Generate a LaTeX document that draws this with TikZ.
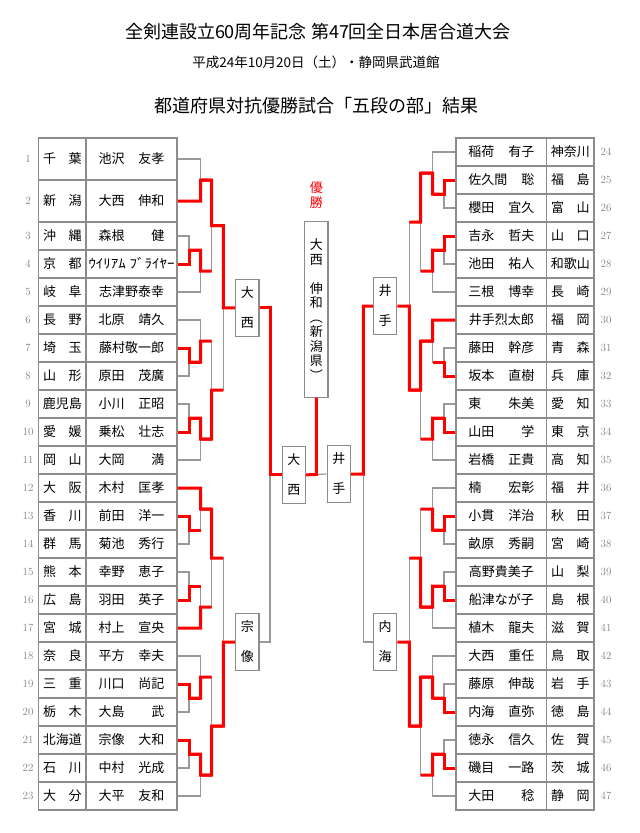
\documentclass[tikz,border=0pt]{standalone}
\usepackage{fontspec}
\usepackage{graphicx}
\newfontfamily\jp{Noto Sans CJK JP}
\usetikzlibrary{calc, positioning}
\newcommand\prefbox[2]{\makebox[38.5pt]{#1\hfill#2}}
\newcommand\namebox[2]{\makebox[66pt]{#1\hfill#2}}

\begin{document}
\begin{tikzpicture}[x=1pt, y=-1pt,
  cell/.style={draw=gray!90, line width=1.2pt, inner sep=0pt, minimum height=28pt,
    font=\jp\fontsize{13}{14}\selectfont, text height=11.4pt, text depth=1.6pt},
  num/.style={text=gray, font=\fontsize{11}{12}\selectfont},
  wire/.style={draw=gray!80, line width=1.2pt},
  win/.style={draw=red, line width=3pt},
  seat/.style={draw=gray!90, line width=1.2pt, fill=white, inner sep=0pt,
    minimum width=23.3pt, minimum height=56.7pt, align=center,
    font=\jp\fontsize{13}{30}\selectfont}]
  \useasboundingbox (0,0) rectangle (640,833);

  % titulos
  \node[font=\jp\fontsize{18}{20}\selectfont] (title) at (318,32) {全剣連設立60周年記念 第47回全日本居合道大会};
  \node[font=\jp\fontsize{13.5}{16}\selectfont] (date) at (316,62) {平成24年10月20日（土）・静岡県武道館};
  \node[font=\jp\fontsize{18}{20}\selectfont] (head) at (316,106) {都道府県対抗優勝試合「五段の部」結果};

  % tabla izquierda
  \foreach \k/\pf/\nm in {
    1/{\prefbox{千}{葉}}/{\namebox{池沢}{友孝}},
    2/{\prefbox{新}{潟}}/{\namebox{大西}{伸和}},
    3/{\prefbox{沖}{縄}}/{\namebox{森根}{健}},
    4/{\prefbox{京}{都}}/{\makebox[86pt]{\scalebox{1.15}[1]{ｳｲﾘｱﾑ}\hfill\scalebox{1.15}[1]{ﾌﾞﾗｲﾔｰ}}},
    5/{\prefbox{岐}{阜}}/志津野泰幸,
    6/{\prefbox{長}{野}}/{\namebox{北原}{靖久}},
    7/{\prefbox{埼}{玉}}/藤村敬一郎,
    8/{\prefbox{山}{形}}/{\namebox{原田}{茂廣}},
    9/鹿児島/{\namebox{小川}{正昭}},
    10/{\prefbox{愛}{媛}}/{\namebox{乗松}{壮志}},
    11/{\prefbox{岡}{山}}/{\namebox{大岡}{満}},
    12/{\prefbox{大}{阪}}/{\namebox{木村}{匡孝}},
    13/{\prefbox{香}{川}}/{\namebox{前田}{洋一}},
    14/{\prefbox{群}{馬}}/{\namebox{菊池}{秀行}},
    15/{\prefbox{熊}{本}}/{\namebox{幸野}{恵子}},
    16/{\prefbox{広}{島}}/{\namebox{羽田}{英子}},
    17/{\prefbox{宮}{城}}/{\namebox{村上}{宣央}},
    18/{\prefbox{奈}{良}}/{\namebox{平方}{幸夫}},
    19/{\prefbox{三}{重}}/{\namebox{川口}{尚記}},
    20/{\prefbox{栃}{木}}/{\namebox{大島}{武}},
    21/北海道/{\namebox{宗像}{大和}},
    22/{\prefbox{石}{川}}/{\namebox{中村}{光成}},
    23/{\prefbox{大}{分}}/{\namebox{大平}{友和}}} {
    \pgfmathsetmacro\yc{\k<3 ? 117+42*\k : 152+28*\k}
    \pgfmathsetmacro\hh{\k<3 ? 42 : 28}
    \node[cell, minimum width=47.3pt, minimum height=\hh] (lp\k) at (62.35,\yc) {\pf};
    \node[cell, minimum width=91pt, minimum height=\hh] (ln\k) at (131.5,\yc) {\nm};
    \node[num] (lno\k) at (28,\yc) {\k};
  }

  % tabla derecha
  \foreach \k/\nm/\pf in {
    24/{\namebox{稲荷}{有子}}/神奈川,
    25/{\namebox{佐久間}{聡}}/{\prefbox{福}{島}},
    26/{\namebox{櫻田}{宜久}}/{\prefbox{富}{山}},
    27/{\namebox{吉永}{哲夫}}/{\prefbox{山}{口}},
    28/{\namebox{池田}{祐人}}/和歌山,
    29/{\namebox{三根}{博幸}}/{\prefbox{長}{崎}},
    30/井手烈太郎/{\prefbox{福}{岡}},
    31/{\namebox{藤田}{幹彦}}/{\prefbox{青}{森}},
    32/{\namebox{坂本}{直樹}}/{\prefbox{兵}{庫}},
    33/{\namebox{東}{朱美}}/{\prefbox{愛}{知}},
    34/{\namebox{山田}{学}}/{\prefbox{東}{京}},
    35/{\namebox{岩橋}{正貴}}/{\prefbox{高}{知}},
    36/{\namebox{楠}{宏彰}}/{\prefbox{福}{井}},
    37/{\namebox{小貫}{洋治}}/{\prefbox{秋}{田}},
    38/{\namebox{畝原}{秀嗣}}/{\prefbox{宮}{崎}},
    39/高野貴美子/{\prefbox{山}{梨}},
    40/船津なが子/{\prefbox{島}{根}},
    41/{\namebox{植木}{龍夫}}/{\prefbox{滋}{賀}},
    42/{\namebox{大西}{重任}}/{\prefbox{鳥}{取}},
    43/{\namebox{藤原}{伸哉}}/{\prefbox{岩}{手}},
    44/{\namebox{内海}{直弥}}/{\prefbox{徳}{島}},
    45/{\namebox{徳永}{信久}}/{\prefbox{佐}{賀}},
    46/{\namebox{磯目}{一路}}/{\prefbox{茨}{城}},
    47/{\namebox{大田}{稔}}/{\prefbox{静}{岡}}} {
    \pgfmathsetmacro\yc{28*\k-520}
    \node[cell, minimum width=90.7pt] (rn\k) at (501.35,\yc) {\nm};
    \node[cell, minimum width=47.3pt] (rp\k) at (570.35,\yc) {\pf};
    \node[num] (rno\k) at (606,\yc) {\k};
  }

  % niveles del cuadro
  \foreach \n/\x in {L1/189, L2/200.7, L3/211.7, L4/223.3, Lbox/235,
                     R1/444, R2/432.7, R3/420.7, R4/409.3, Rbox/397.3}
    \coordinate (\n) at (\x,0);

  % combates: arriba/abajo/nivel/siguiente/salida/ganador
  \def\bouts{
    ln1.east/ln2.east/L2/L3/mA/ln2.east,
    ln3.east/ln4.east/L1/L2/mB/ln4.east,
    mB/ln5.east/L2/L3/mC/mB,
    mA/mC/L3/L4/mD/mA,
    ln7.east/ln8.east/L1/L2/mE/ln7.east,
    ln6.east/mE/L2/L3/mF/mE,
    ln9.east/ln10.east/L1/L2/mG/ln10.east,
    mG/ln11.east/L2/L3/mH/mG,
    mF/mH/L3/L4/mI/mH,
    mD/mI/L4/Lbox/mJ/mD,
    ln13.east/ln14.east/L1/L2/mK/ln13.east,
    ln12.east/mK/L2/L3/mL/ln12.east,
    ln15.east/ln16.east/L1/L2/mM/ln16.east,
    mM/ln17.east/L2/L3/mN/ln17.east,
    mL/mN/L3/L4/mO/mL,
    ln19.east/ln20.east/L1/L2/mP/ln19.east,
    ln18.east/mP/L2/L3/mQ/mP,
    ln21.east/ln22.east/L1/L2/mR/ln21.east,
    mR/ln23.east/L2/L3/mS/mR,
    mQ/mS/L3/L4/mT/mS,
    mO/mT/L4/Lbox/mU/mT,
    rn25.west/rn26.west/R1/R2/na/rn25.west,
    rn24.west/na/R2/R3/nb/na,
    rn27.west/rn28.west/R1/R2/nc/rn27.west,
    nc/rn29.west/R2/R3/nd/nc,
    nb/nd/R3/R4/ne/nb,
    rn31.west/rn32.west/R1/R2/nf/rn32.west,
    rn30.west/nf/R2/R3/ng/rn30.west,
    rn33.west/rn34.west/R1/R2/nh/rn34.west,
    nh/rn35.west/R2/R3/ni/nh,
    ng/ni/R3/R4/nj/ng,
    ne/nj/R4/Rbox/nk/nj,
    rn37.west/rn38.west/R1/R2/nl/rn37.west,
    rn36.west/nl/R2/R3/nm/nl,
    rn39.west/rn40.west/R1/R2/nn/rn40.west,
    nn/rn41.west/R2/R3/no/nn,
    nm/no/R3/R4/np/no,
    rn43.west/rn44.west/R1/R2/nq/rn44.west,
    rn42.west/nq/R2/R3/nr/nq,
    rn45.west/rn46.west/R1/R2/ns/rn46.west,
    ns/rn47.west/R2/R3/nt/ns,
    nr/nt/R3/R4/nu/nr,
    np/nu/R4/Rbox/nv/nu}
  \foreach \ia/\ib/\lv/\nx/\out/\win in \bouts {
    \draw[wire] (\ia) -- (\ia -| \lv) -- (\ib -| \lv) -- (\ib);
    \coordinate (\out) at ($(\ia -| \lv)!.5!(\ib -| \lv)$);
  }
  \foreach \ia/\ib/\lv/\nx/\out/\win in \bouts
    \draw[win] (\win) -- (\win -| \lv) -- (\out) -- (\out -| \nx);

  % semifinales
  \node[seat, right=11.7pt of mJ] (sfL1) {大\\西};
  \node[seat, right=11.7pt of mU] (sfL2) {宗\\像};
  \node[seat, left=12pt of nk] (sfR1) {井\\手};
  \node[seat, left=12pt of nv] (sfR2) {内\\海};
  \coordinate (L5) at (270,0);
  \coordinate (R5) at (363.3,0);
  \draw[wire] (sfL1.east) -- (sfL1.east -| L5) -- (sfL2.east -| L5) -- (sfL2.east);
  \draw[wire] (sfR1.west) -- (sfR1.west -| R5) -- (sfR2.west -| R5) -- (sfR2.west);
  \coordinate (mV) at ($(sfL1.east -| L5)!.5!(sfL2.east -| L5)$);
  \coordinate (nw) at ($(sfR1.west -| R5)!.5!(sfR2.west -| R5)$);

  % final y campeon
  \node[seat, right=11.7pt of mV] (fL) {大\\西};
  \node[seat, left=12.3pt of nw] (fR) {井\\手};
  \coordinate (fmid) at ($(fL.east)!.5!(fR.west)$);
  \node[seat, minimum height=175.6pt, font=\jp\fontsize{13}{14.5}\selectfont,
    above=76.7pt of fmid] (champ) {大\\西\\[14.5pt]伸\\和\\︵\\新\\潟\\県\\︶};
  \node[text=red, inner sep=0pt, align=center, font=\jp\fontsize{13}{15}\selectfont,
    above=12pt of champ] (yusho) {優\\勝};
  \draw[wire] (fL.east) -- (fR.west);
  \draw[win] (sfL1.east) -- (sfL1.east -| L5) -- (mV) -- (fL.west);
  \draw[win] (sfR1.west) -- (sfR1.west -| R5) -- (nw) -- (fR.east);
  \draw[win] (fL.east) -- (fmid) -- (champ.south);
\end{tikzpicture}
\end{document}
